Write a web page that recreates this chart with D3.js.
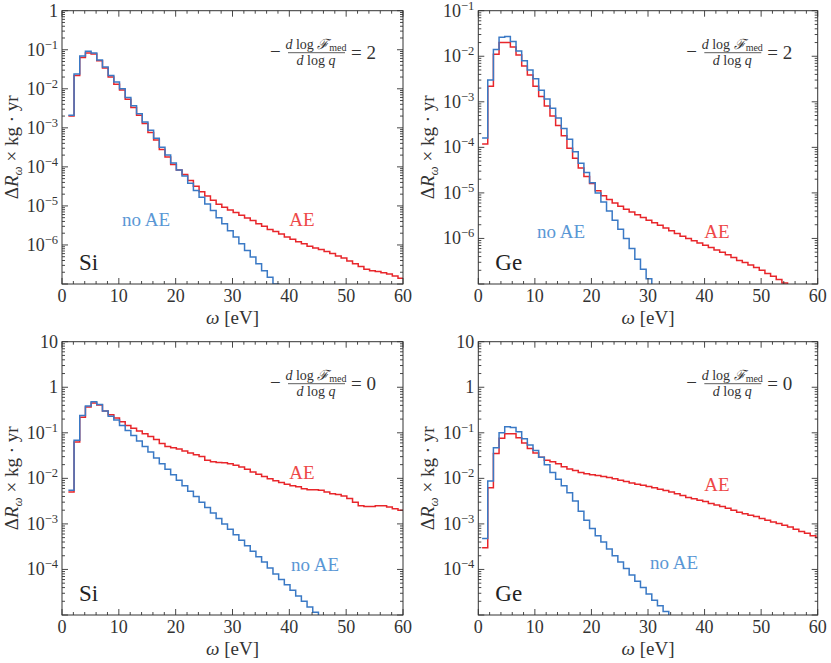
<!DOCTYPE html>
<html>
<head>
<meta charset="utf-8">
<script src="https://cdn.jsdelivr.net/npm/d3@7"></script>
<style>
  body { margin: 0; background: #fff; }
</style>
</head>
<body>
<div id="chart"></div>
<script>
// bin edges: Si starts at its gap, Ge at its gap, 1 eV wide bins
const siStart = 1.12, geStart = 0.67, binWidth = 1;

// Si, -dlogF/dlogq = 2
const siN2AE = [2.0e-3, 2.2e-2, 6.3e-2, 8.3e-2, 7.8e-2, 5.2e-2, 3.4e-2, 2.0e-2, 1.3e-2, 9.3e-3,
  5.4e-3, 3.3e-3, 2.1e-3, 1.3e-3, 7.6e-4, 4.9e-4, 2.8e-4, 1.8e-4, 1.15e-4, 8.3e-5,
  6.4e-5, 4.5e-5, 3.2e-5, 2.3e-5, 1.8e-5, 1.4e-5, 1.1e-5, 9.3e-6, 7.9e-6, 6.8e-6,
  5.8e-6, 4.9e-6, 4.2e-6, 3.5e-6, 3.0e-6, 2.5e-6, 2.2e-6, 1.9e-6, 1.6e-6, 1.4e-6,
  1.2e-6, 1.07e-6, 9.3e-7, 8.3e-7, 7.6e-7, 6.8e-7, 6.0e-7, 5.2e-7, 4.6e-7, 3.9e-7,
  3.3e-7, 2.8e-7, 2.4e-7, 2.2e-7, 2.1e-7, 1.95e-7, 1.8e-7, 1.6e-7, 1.4e-7];
const siN2noAE = [2.1e-3, 2.4e-2, 6.9e-2, 9.1e-2, 8.3e-2, 5.5e-2, 3.6e-2, 2.2e-2, 1.5e-2, 1.0e-2,
  6.0e-3, 3.7e-3, 2.3e-3, 1.4e-3, 8.7e-4, 5.4e-4, 3.2e-4, 2.0e-4, 1.26e-4, 8.3e-5,
  5.8e-5, 3.8e-5, 2.5e-5, 1.66e-5, 1.12e-5, 7.6e-6, 5.0e-6, 3.5e-6, 2.3e-6, 1.6e-6,
  1.07e-6, 7.2e-7, 4.9e-7, 3.3e-7, 2.2e-7, 1.5e-7, 1.0e-7, 6.3e-8];

// Ge, -dlogF/dlogq = 2
const geN2AE = [1.18e-4, 2.2e-3, 1.1e-2, 2.0e-2, 2.0e-2, 1.6e-2, 1.07e-2, 6.1e-3, 3.9e-3, 2.2e-3,
  1.3e-3, 8.1e-4, 4.9e-4, 3.0e-4, 1.8e-4, 9.5e-5, 5.8e-5, 3.5e-5, 2.3e-5, 1.6e-5,
  1.12e-5, 8.7e-6, 7.2e-6, 6.0e-6, 5.1e-6, 4.4e-6, 3.8e-6, 3.3e-6, 2.9e-6, 2.5e-6,
  2.2e-6, 1.95e-6, 1.7e-6, 1.48e-6, 1.29e-6, 1.12e-6, 1.0e-6, 8.9e-7, 7.9e-7, 7.1e-7,
  6.3e-7, 5.6e-7, 5.0e-7, 4.4e-7, 3.8e-7, 3.3e-7, 2.95e-7, 2.6e-7, 2.3e-7, 2.0e-7,
  1.7e-7, 1.48e-7, 1.26e-7, 1.05e-7, 8.7e-8];
const geN2noAE = [1.6e-4, 3.0e-3, 1.4e-2, 2.6e-2, 2.7e-2, 2.1e-2, 1.3e-2, 8.0e-3, 5.0e-3, 3.2e-3,
  1.8e-3, 1.15e-3, 7.2e-4, 4.4e-4, 2.6e-4, 1.5e-4, 8.0e-5, 4.5e-5, 2.8e-5, 1.66e-5,
  1.0e-5, 6.3e-6, 4.0e-6, 2.5e-6, 1.6e-6, 1.0e-6, 6.0e-7, 3.5e-7, 2.1e-7, 1.3e-7, 8.0e-8];

// Si, -dlogF/dlogq = 0
const siN0AE = [5.0e-3, 6.3e-2, 0.22, 0.37, 0.45, 0.41, 0.30, 0.25, 0.21, 0.175,
  0.145, 0.126, 0.110, 0.095, 0.083, 0.071, 0.058, 0.050, 0.047, 0.044,
  0.040, 0.036, 0.033, 0.030, 0.025, 0.023, 0.0224, 0.0219, 0.021, 0.0195,
  0.0178, 0.0158, 0.0138, 0.0123, 0.011, 0.0098, 0.0089, 0.0081, 0.0074, 0.0069,
  0.0065, 0.0059, 0.0056, 0.0056, 0.0055, 0.0050, 0.0046, 0.0044, 0.0041, 0.0036,
  0.0030, 0.0025, 0.0024, 0.0024, 0.0025, 0.0025, 0.00235, 0.00215, 0.0020];
const siN0noAE = [5.5e-3, 6.9e-2, 0.24, 0.39, 0.48, 0.42, 0.30, 0.23, 0.19, 0.145,
  0.112, 0.087, 0.066, 0.050, 0.038, 0.028, 0.021, 0.0158, 0.012, 0.0091,
  0.0069, 0.0052, 0.0040, 0.0030, 0.0023, 0.00174, 0.00132, 0.0010, 7.6e-4, 5.8e-4,
  4.4e-4, 3.3e-4, 2.5e-4, 1.9e-4, 1.45e-4, 1.07e-4, 7.9e-5, 6.0e-5, 4.6e-5, 3.5e-5,
  2.6e-5, 2.0e-5, 1.5e-5, 1.15e-5, 8.7e-6];

// Ge, -dlogF/dlogq = 0
const geN0AE = [3.0e-4, 6.2e-3, 3.5e-2, 7.6e-2, 9.5e-2, 9.5e-2, 7.8e-2, 6.0e-2, 4.5e-2, 3.6e-2,
  2.9e-2, 2.5e-2, 2.3e-2, 2.1e-2, 1.8e-2, 1.6e-2, 1.48e-2, 1.35e-2, 1.26e-2, 1.2e-2,
  1.15e-2, 1.1e-2, 1.05e-2, 9.8e-3, 9.1e-3, 8.5e-3, 7.9e-3, 7.4e-3, 7.1e-3, 6.6e-3,
  6.2e-3, 5.8e-3, 5.4e-3, 5.0e-3, 4.6e-3, 4.2e-3, 3.8e-3, 3.55e-3, 3.3e-3, 3.1e-3,
  2.8e-3, 2.6e-3, 2.4e-3, 2.2e-3, 2.0e-3, 1.8e-3, 1.66e-3, 1.55e-3, 1.45e-3, 1.32e-3,
  1.2e-3, 1.1e-3, 1.02e-3, 9.3e-4, 8.5e-4, 7.6e-4, 6.8e-4, 6.2e-4, 5.5e-4, 5.0e-4];
const geN0noAE = [4.8e-4, 8.7e-3, 4.7e-2, 0.10, 0.135, 0.13, 0.105, 7.4e-2, 5.4e-2, 4.1e-2,
  2.9e-2, 2.0e-2, 1.35e-2, 9.5e-3, 6.9e-3, 4.8e-3, 3.2e-3, 1.9e-3, 1.2e-3, 7.9e-4,
  5.5e-4, 4.0e-4, 2.8e-4, 2.0e-4, 1.45e-4, 1.05e-4, 7.6e-5, 5.5e-5, 4.0e-5, 2.9e-5,
  2.1e-5, 1.6e-5, 1.2e-5, 8.9e-6];

// axes
const xTicks = [0, 10, 20, 30, 40, 50, 60];
const yTicksTop1 = [1, 1e-1, 1e-2, 1e-3, 1e-4, 1e-5, 1e-6];
const yTicksTop2 = [1e-1, 1e-2, 1e-3, 1e-4, 1e-5, 1e-6];
const yTicksBottom = [10, 1, 1e-1, 1e-2, 1e-3, 1e-4];

const redLine = "#e8262b", blueLine = "#3a79c5";
const redText = "#ee4848", blueText = "#5a97d5";
const serif = "Liberation Serif";

const W = 831, H = 663;
const svg = d3.select("#chart").append("svg")
    .attr("width", W)
    .attr("height", H);

const panels = [
    { id: "p1", x0: 62, x1: 403, y0: 10.7, y1: 284, yDomain: [1e-7, 1], yTicks: yTicksTop1,
      start: siStart, ae: siN2AE, noae: siN2noAE, mat: "Si", n: "2",
      noaePos: [146, 226], aePos: [302, 226] },
    { id: "p2", x0: 478.3, x1: 817.7, y0: 10.7, y1: 284, yDomain: [1e-7, 1e-1], yTicks: yTicksTop2,
      start: geStart, ae: geN2AE, noae: geN2noAE, mat: "Ge", n: "2",
      noaePos: [561, 238], aePos: [717, 238] },
    { id: "p3", x0: 62, x1: 403, y0: 341.7, y1: 615, yDomain: [1e-5, 10], yTicks: yTicksBottom,
      start: siStart, ae: siN0AE, noae: siN0noAE, mat: "Si", n: "0",
      noaePos: [315, 571], aePos: [302, 479] },
    { id: "p4", x0: 478.3, x1: 817.7, y0: 341.7, y1: 615, yDomain: [1e-5, 10], yTicks: yTicksBottom,
      start: geStart, ae: geN0AE, noae: geN0noAE, mat: "Ge", n: "0",
      noaePos: [674, 569], aePos: [717, 491] }
];

panels.forEach(drawPanel);

function txt(sel) {
    return sel.append("text").style("font-family", serif);
}

function drawPanel(p) {
    const x = d3.scaleLinear().domain([0, 60]).range([p.x0, p.x1]);
    const y = d3.scaleLog().domain(p.yDomain).range([p.y1, p.y0]);
    const g = svg.append("g");

    g.append("clipPath").attr("id", "clip-" + p.id)
        .append("rect")
        .attr("x", p.x0).attr("y", p.y0)
        .attr("width", p.x1 - p.x0).attr("height", p.y1 - p.y0);

    // step lines
    const line = d3.line()
        .x(d => x(d[0]))
        .y(d => y(d[1]))
        .curve(d3.curveStepAfter);

    function stepPoints(vals) {
        const pts = vals.map((v, i) => [p.start + i * binWidth, v]);
        pts.push([p.start + vals.length * binWidth, vals[vals.length - 1]]);
        return pts;
    }

    const plot = g.append("g").attr("clip-path", `url(#clip-${p.id})`);
    plot.append("path")
        .attr("d", line(stepPoints(p.ae)))
        .attr("fill", "none")
        .attr("stroke", redLine)
        .attr("stroke-width", 1.5);
    plot.append("path")
        .attr("d", line(stepPoints(p.noae)))
        .attr("fill", "none")
        .attr("stroke", blueLine)
        .attr("stroke-width", 1.5);

    // frame
    g.append("rect")
        .attr("x", p.x0).attr("y", p.y0)
        .attr("width", p.x1 - p.x0).attr("height", p.y1 - p.y0)
        .attr("fill", "none")
        .attr("stroke", "#333")
        .attr("stroke-width", 1);

    // x ticks, inward on top and bottom
    const xMinor = d3.range(0, 61, 2).filter(v => v % 10 !== 0);
    const tickG = g.append("g").attr("stroke", "#333").attr("stroke-width", 0.9);
    xTicks.forEach(v => {
        tickG.append("line").attr("x1", x(v)).attr("x2", x(v)).attr("y1", p.y1).attr("y2", p.y1 - 6);
        tickG.append("line").attr("x1", x(v)).attr("x2", x(v)).attr("y1", p.y0).attr("y2", p.y0 + 6);
    });
    xMinor.forEach(v => {
        tickG.append("line").attr("x1", x(v)).attr("x2", x(v)).attr("y1", p.y1).attr("y2", p.y1 - 3);
        tickG.append("line").attr("x1", x(v)).attr("x2", x(v)).attr("y1", p.y0).attr("y2", p.y0 + 3);
    });

    // y ticks, log minor ticks
    y.ticks().forEach(v => {
        const lg = Math.log10(v);
        const major = Math.abs(lg - Math.round(lg)) < 1e-9;
        const len = major ? 6 : 3;
        tickG.append("line").attr("x1", p.x0).attr("x2", p.x0 + len).attr("y1", y(v)).attr("y2", y(v));
        tickG.append("line").attr("x1", p.x1).attr("x2", p.x1 - len).attr("y1", y(v)).attr("y2", y(v));
    });

    // x tick labels
    xTicks.forEach(v => {
        txt(g).attr("x", x(v))
            .attr("y", p.y1 + 18)
            .attr("text-anchor", "middle")
            .attr("font-size", 18)
            .attr("fill", "#333")
            .text(v);
    });

    // y tick labels
    p.yTicks.forEach(v => {
        const e = Math.round(Math.log10(v));
        const t = txt(g)
            .attr("x", p.x0 - 4)
            .attr("y", y(v) + 6)
            .attr("text-anchor", "end")
            .attr("font-size", 18)
            .attr("fill", "#333");
        if (e === 0) t.text("1");
        else if (e === 1) t.text("10");
        else {
            t.append("tspan").text("10");
            t.append("tspan").attr("dy", -7).attr("font-size", 12.5).text("\u2212" + (-e));
        }
    });

    // axis titles
    const xt = txt(g)
        .attr("x", (p.x0 + p.x1) / 2)
        .attr("y", p.y1 + 40)
        .attr("text-anchor", "middle")
        .attr("font-size", 19)
        .attr("fill", "#333");
    xt.append("tspan").attr("font-style", "italic").text("\u03c9");
    xt.append("tspan").text(" [eV]");

    const yt = txt(g)
        .attr("transform", `translate(${p.x0 - 44},${(p.y0 + p.y1) / 2}) rotate(-90)`)
        .attr("text-anchor", "middle")
        .attr("font-size", 19)
        .attr("fill", "#333");
    yt.append("tspan").text("\u0394");
    yt.append("tspan").attr("font-style", "italic").text("R");
    yt.append("tspan").attr("font-style", "italic").attr("font-size", 13).attr("dy", 4).text("\u03c9");
    yt.append("tspan").attr("dy", -4).text(" \u00d7 kg \u00b7 yr");

    // formula
    const fx = p.x0 + 206, fy = p.y0;
    txt(g).attr("x", fx + 2).attr("y", fy + 47)
        .attr("font-size", 19).attr("fill", "#333").text("\u2212");
    const num = txt(g).attr("x", fx + 48).attr("y", fy + 38)
        .attr("text-anchor", "middle").attr("font-size", 14).attr("fill", "#333");
    num.append("tspan").attr("font-style", "italic").text("d");
    num.append("tspan").text(" log ");
    num.append("tspan").attr("font-style", "italic").text("\u2131");
    num.append("tspan").attr("font-size", 10).attr("dy", 2).text("med");
    g.append("line")
        .attr("x1", fx + 20).attr("x2", fx + 77)
        .attr("y1", fy + 42).attr("y2", fy + 42)
        .attr("stroke", "#333").attr("stroke-width", 0.8);
    const den = txt(g).attr("x", fx + 48).attr("y", fy + 54)
        .attr("text-anchor", "middle").attr("font-size", 14).attr("fill", "#333");
    den.append("tspan").attr("font-style", "italic").text("d");
    den.append("tspan").text(" log ");
    den.append("tspan").attr("font-style", "italic").text("q");
    txt(g).attr("x", fx + 83).attr("y", fy + 48)
        .attr("font-size", 19).attr("fill", "#333").text("= " + p.n);

    // material + series labels
    txt(g).attr("x", p.x0 + 17).attr("y", p.y1 - 14)
        .attr("font-size", 23).attr("fill", "#222").text(p.mat);
    txt(g).attr("x", p.noaePos[0]).attr("y", p.noaePos[1])
        .attr("text-anchor", "middle").attr("font-size", 19)
        .attr("fill", blueText).text("no AE");
    txt(g).attr("x", p.aePos[0]).attr("y", p.aePos[1])
        .attr("text-anchor", "middle").attr("font-size", 19)
        .attr("fill", redText).text("AE");
}
</script>
</body>
</html>
